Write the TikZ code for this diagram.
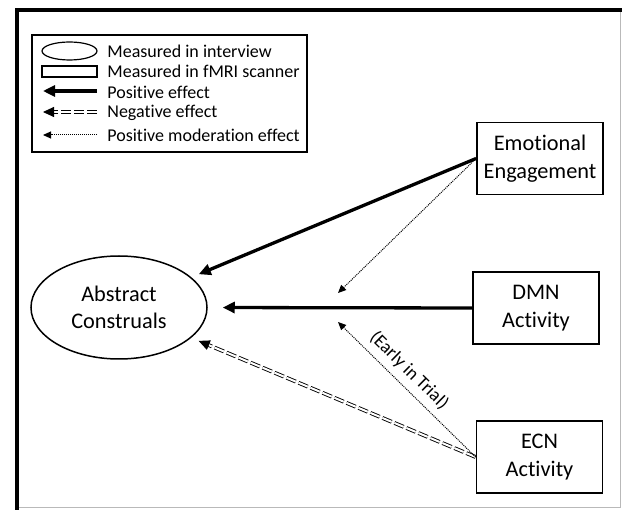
\documentclass[tikz,border=0pt]{standalone}
\usepackage{fontspec}
\setmainfont[Ligatures=NoCommon]{Carlito}
\usetikzlibrary{
	arrows.meta, % for the arrow heads
	shapes.geometric, % ellipse
	positioning
	}

\tikzset{
	measbox/.style={draw, line width=1.8pt, minimum width=126pt, minimum height=72pt,
		inner sep=0pt, align=center, font=\fontsize{22.3}{28}\selectfont},
	interview/.style={draw, ellipse, line width=1.5pt, minimum width=176pt, minimum height=103pt,
		inner sep=0pt, align=center, font=\fontsize{22.3}{27}\selectfont},
	poseff/.style={line width=3.3pt, -{Triangle[length=12pt,width=11pt]}},
	negeff/.style={double, double distance=2pt, line width=0.9pt,
		dash pattern=on 10pt off 3pt, -{Triangle[length=11pt,width=10pt]}},
	modeff/.style={line width=1pt, dash pattern=on 1pt off 1pt, -{Triangle[length=8pt,width=7pt]}},
	legtext/.style={anchor=west, inner sep=0pt, font=\fontsize{18}{20}\selectfont}
}

\begin{document}
\begin{tikzpicture}[black, thick, x=1pt, y=-1pt]

	\useasboundingbox (0,0) rectangle (622,510);

	% Frame
	\draw[gray!55, line width=1pt] (620,10) -- (620,508) -- (17,508);
	\draw[line width=3.5pt] (15,10) -- (622,10);
	\draw[line width=3.5pt] (17,8.3) -- (17,510);

	% Legend
	\node[draw, line width=1.5pt, minimum width=275pt, minimum height=117pt, inner sep=0pt]
		(legend) at (169.5,93.5) {};
	\node[draw, ellipse, line width=1.2pt, minimum width=55pt, minimum height=18pt, inner sep=0pt]
		(legell) at (69.5,51) {};
	\node[draw, line width=1.2pt, minimum width=55pt, minimum height=11pt, inner sep=0pt]
		(legrect) at (69.5,71.5) {};
	\coordinate (lpa) at (97,91);
	\coordinate (lpb) at (43,91);
	\coordinate (lna) at (97,112);
	\coordinate (lnb) at (43,112);
	\coordinate (lma) at (97,135);
	\coordinate (lmb) at (43,135);
	\draw[poseff] (lpa) -- (lpb);
	\draw[negeff] (lna) -- (lnb);
	\draw[modeff] (lma) -- (lmb);
	\node[legtext] (t1) at (107,51) {Measured in interview};
	\node[legtext] (t2) at (107,71) {Measured in fMRI scanner};
	\node[legtext] (t3) at (107,92) {Positive effect};
	\node[legtext] (t4) at (107,113) {Negative effect};
	\node[legtext] (t5) at (107,135) {Positive moderation effect};

	% Constructs
	\node[interview] (abs) at (119,307.5) {Abstract\\Construals};
	\node[measbox] (emo) at (540,158.5) {Emotional\\Engagement};
	\node[measbox] (dmn) at (536,308) {DMN\\Activity};
	\node[measbox] (ecn) at (539.5,457) {ECN\\Activity};

	% Effects
	\coordinate (modtop) at (338,293);
	\coordinate (modbot) at (338,322);
	\draw[poseff, shorten >=8pt] (emo.west) -- (abs);
	\draw[poseff, shorten >=15pt] (dmn.west) -- (abs.east);
	\draw[negeff, shorten >=8pt] (ecn.west) -- (abs);
	\draw[modeff] (emo.west) -- (modtop);
	\draw[modeff] (ecn.west) -- (modbot)
		node[pos=0.56, sloped, above=3pt, font=\fontsize{18.5}{20}\selectfont] (early) {(Early in Trial)};

\end{tikzpicture}
\end{document}
